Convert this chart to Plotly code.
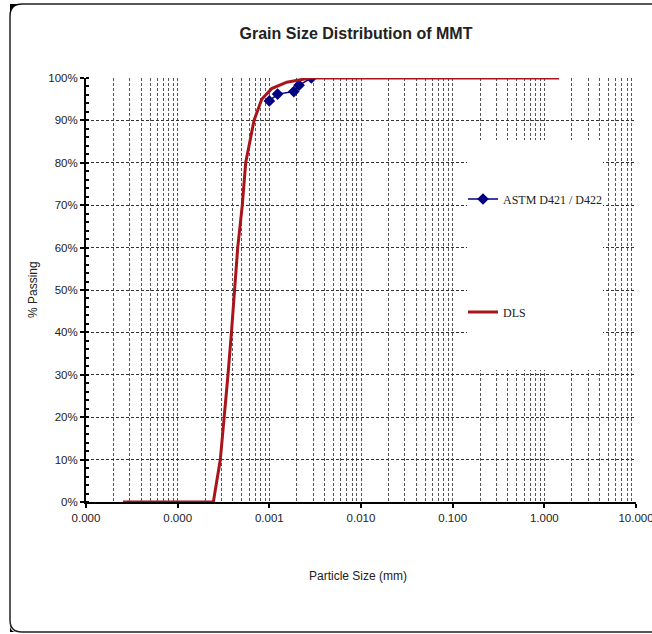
import plotly.graph_objects as go

# ASTM D421 / D422 hydrometer results
astm_size_mm = [0.00100, 0.00123, 0.00185, 0.00211, 0.00287]
astm_passing = [94.6, 96.2, 96.8, 98.3, 100.0]

# DLS cumulative distribution
dls_size_mm = [2.54e-5, 2.45e-4, 2.92e-4, 3.23e-4, 3.54e-4, 3.86e-4, 4.15e-4,
               4.52e-4, 5.07e-4, 5.52e-4, 6.81e-4, 8.26e-4, 1.06e-3, 1.55e-3,
               2.78e-3, 1.445]
dls_passing = [0, 0, 10, 20, 30, 40, 50, 60, 70, 80, 90, 95, 97.5, 99, 100, 100]

W, H = 652, 634
L, R, T, B = 86, 16, 78, 132
PW, PH = W - L - R, H - T - B


def px(x):
    return (x - L) / PW


def py(y):
    return 1 - (y - T) / PH


fig = go.Figure()
fig.add_trace(go.Scatter(
    x=astm_size_mm, y=astm_passing, name="ASTM D421 / D422",
    mode="lines+markers",
    line=dict(color="#000080", width=1.5),
    marker=dict(symbol="diamond", size=9, color="#000080"),
    legend="legend", showlegend=True,
))
fig.add_trace(go.Scatter(
    x=dls_size_mm, y=dls_passing, name="DLS", mode="lines",
    line=dict(color="#A8151B", width=3),
    legend="legend2", showlegend=True,
))

grid_col = "#555555"
dash = "3px,2px"
sans = "Liberation Sans, Arial, sans-serif"
tick_font = dict(family=sans, size=11.5, color="#222")

frame_path = (f"M {px(652)},{py(4)} L {px(22)},{py(4)} Q {px(10)},{py(4)} {px(10)},{py(16)} "
              f"L {px(10)},{py(620)} Q {px(10)},{py(632)} {px(22)},{py(632)} L {px(652)},{py(632)}")
corner_tl = f"M {px(10)},{py(4)} L {px(23)},{py(4)} Q {px(10)},{py(4)} {px(10)},{py(17)} Z"
corner_bl = f"M {px(10)},{py(632)} L {px(10)},{py(624)} Q {px(10)},{py(632)} {px(16)},{py(632)} Z"

shapes = [
    # white panel behind the legend entries
    dict(type="rect", xref="paper", yref="paper", x0=px(467), x1=px(603),
         y0=py(140), y1=py(370), fillcolor="white", line=dict(width=0), layer="above"),
    dict(type="path", xref="paper", yref="paper", path=frame_path,
         line=dict(color="#222", width=1.5)),
    dict(type="path", xref="paper", yref="paper", path=corner_tl,
         fillcolor="black", line=dict(width=0)),
    dict(type="path", xref="paper", yref="paper", path=corner_bl,
         fillcolor="black", line=dict(width=0)),
]

legend_common = dict(
    bgcolor="rgba(0,0,0,0)", borderwidth=0, itemwidth=30,
    font=dict(family="Liberation Serif, Times New Roman, serif", size=12, color="#222"),
    xanchor="left", yanchor="middle", x=px(463),
)

fig.update_layout(
    width=W, height=H,
    margin=dict(l=L, r=R, t=T, b=B, autoexpand=False),
    paper_bgcolor="white", plot_bgcolor="white",
    showlegend=True,
    title=dict(text="<b>Grain Size Distribution of MMT</b>", xref="paper", x=px(356),
               xanchor="center", yref="container", y=1 - 33 / H, yanchor="middle",
               font=dict(family=sans, size=16, color="#222")),
    xaxis=dict(
        type="log", range=[-5, 1], dtick=1, tickformat=".3f",
        showline=True, linecolor="black", linewidth=2,
        ticks="outside", ticklen=4, tickcolor="black", tickwidth=1.5,
        showgrid=True, gridcolor=grid_col, gridwidth=1, griddash=dash,
        minor=dict(dtick="D1", showgrid=True, gridcolor=grid_col, gridwidth=1, griddash=dash),
        zeroline=False, tickfont=tick_font, ticklabeloverflow="allow", automargin=False,
    ),
    yaxis=dict(
        range=[0, 100], dtick=10, ticksuffix="%",
        showline=True, linecolor="black", linewidth=2,
        ticks="outside", ticklen=4, tickcolor="black", tickwidth=1.5,
        showgrid=True, gridcolor="#333", gridwidth=1, griddash=dash,
        minor=dict(dtick=2, ticks="inside", ticklen=3, tickcolor="black", showgrid=False),
        zeroline=False, tickfont=tick_font, automargin=False,
    ),
    legend=dict(y=py(199), **legend_common),
    legend2=dict(y=py(312), **legend_common),
    shapes=shapes,
    annotations=[
        dict(text="% Passing", xref="paper", yref="paper", x=px(33), y=py(290),
             textangle=-90, showarrow=False, xanchor="center", yanchor="middle",
             font=dict(family=sans, size=12, color="#222")),
        dict(text="Particle Size (mm)", xref="paper", yref="paper", x=px(358), y=py(576),
             showarrow=False, xanchor="center", yanchor="middle",
             font=dict(family=sans, size=12, color="#222")),
    ],
)

fig.write_html("out.html")
